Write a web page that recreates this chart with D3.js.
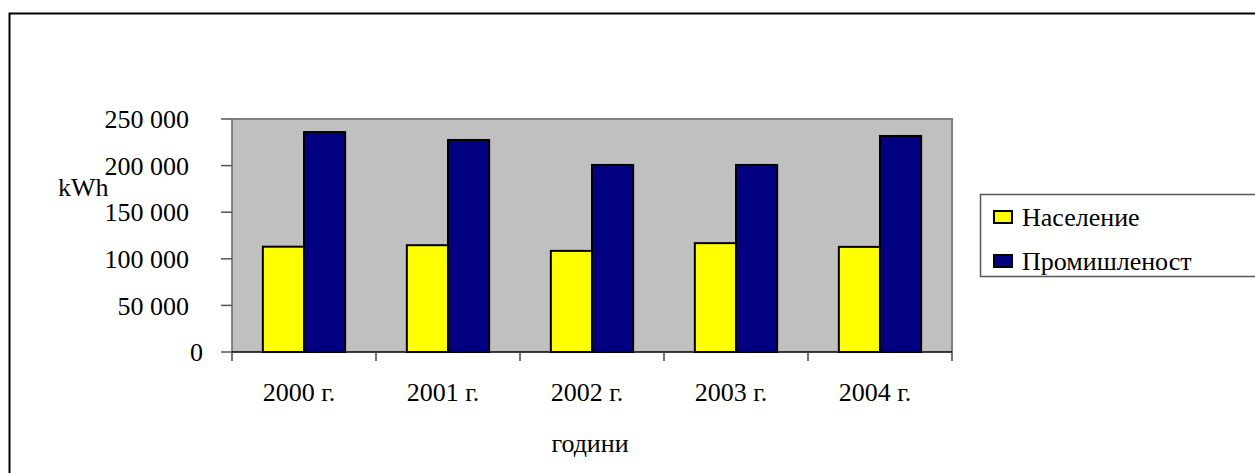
<!DOCTYPE html>
<html>
<head>
<meta charset="utf-8">
<script src="https://cdn.jsdelivr.net/npm/d3@7"></script>
<style>
  html, body { margin: 0; padding: 0; background: #fff; }
  svg { display: block; }
  text { font-family: "Liberation Serif", "DejaVu Serif", serif; fill: #000; }
</style>
</head>
<body>
<svg id="chart" width="1255" height="473"></svg>
<script>
// Electricity consumption by year, kWh
const years = ["2000 г.", "2001 г.", "2002 г.", "2003 г.", "2004 г."];
const seriesNames = ["Население", "Промишленост"];
const population = [113000, 114600, 108500, 116800, 112800];
const industry = [236000, 227500, 200700, 200700, 231800];
const yTicks = [0, 50000, 100000, 150000, 200000, 250000];
const seriesColors = ["#FFFF00", "#000080"];
const yTitle = "kWh";
const xTitle = "години";

const values = [population, industry];

const svg = d3.select("#chart");
const fontSize = 26;

// chart area frame
svg.append("rect")
  .attr("x", 9.5).attr("y", 13.5)
  .attr("width", 1260).attr("height", 470)
  .attr("fill", "#fff").attr("stroke", "#000").attr("stroke-width", 2);

const plot = { left: 232, right: 952, top: 119, bottom: 352 };

const x0 = d3.scaleBand()
  .domain(years)
  .range([plot.left, plot.right])
  .paddingInner(3 / 7)
  .paddingOuter(3 / 14);

const x1 = d3.scaleBand()
  .domain(seriesNames)
  .range([0, x0.bandwidth()]);

const y = d3.scaleLinear()
  .domain([0, 250000])
  .range([plot.bottom, plot.top]);

const fmt = d3.formatLocale({ decimal: ",", thousands: " ", grouping: [3], currency: ["", ""] }).format(",d");

// plot background
svg.append("rect")
  .attr("x", plot.left).attr("y", plot.top)
  .attr("width", plot.right - plot.left).attr("height", plot.bottom - plot.top)
  .attr("fill", "#C0C0C0");

// top and right frame of the plot area
svg.append("path")
  .attr("d", `M${plot.left},${plot.top}H${plot.right}V${plot.bottom}`)
  .attr("fill", "none").attr("stroke", "#808080").attr("stroke-width", 2);

// bars
const groups = svg.append("g").selectAll("g")
  .data(years)
  .join("g")
  .attr("transform", d => `translate(${x0(d)},0)`);

groups.selectAll("rect")
  .data((d, i) => seriesNames.map((s, j) => ({ s, j, v: values[j][i] })))
  .join("rect")
  .attr("x", d => x1(d.s))
  .attr("y", d => y(d.v))
  .attr("width", x1.bandwidth())
  .attr("height", d => y(0) - y(d.v))
  .attr("fill", d => seriesColors[d.j])
  .attr("stroke", "#000")
  .attr("stroke-width", 2);

// y axis
const yAxis = svg.append("g");
yAxis.append("line")
  .attr("x1", plot.left).attr("x2", plot.left)
  .attr("y1", plot.top).attr("y2", plot.bottom)
  .attr("stroke", "#666").attr("stroke-width", 1.5);
yAxis.selectAll("line.tick")
  .data(yTicks)
  .join("line")
  .attr("class", "tick")
  .attr("x1", plot.left - 11).attr("x2", plot.left)
  .attr("y1", d => y(d)).attr("y2", d => y(d))
  .attr("stroke", "#555").attr("stroke-width", 1.5);
yAxis.selectAll("text")
  .data(yTicks)
  .join("text")
  .attr("x", d => d === 0 ? 203 : 189)
  .attr("y", d => y(d))
  .attr("dy", "0.35em")
  .attr("text-anchor", "end")
  .attr("font-size", fontSize)
  .text(d => fmt(d));

// x axis
const step = x0.step();
const boundaries = years.map(c => x0(c) - (step - x0.bandwidth()) / 2);
boundaries.push(plot.right);

const xAxis = svg.append("g");
xAxis.append("line")
  .attr("x1", plot.left).attr("x2", plot.right)
  .attr("y1", plot.bottom).attr("y2", plot.bottom)
  .attr("stroke", "#000").attr("stroke-width", 1.5);
xAxis.selectAll("line.tick")
  .data(boundaries)
  .join("line")
  .attr("class", "tick")
  .attr("x1", d => d).attr("x2", d => d)
  .attr("y1", plot.bottom).attr("y2", plot.bottom + 9)
  .attr("stroke", "#444").attr("stroke-width", 1.5);
xAxis.selectAll("text")
  .data(years)
  .join("text")
  .attr("x", d => x0(d) + x0.bandwidth() / 2 - 5)
  .attr("y", 401)
  .attr("text-anchor", "middle")
  .attr("font-size", fontSize)
  .text(d => d);

// axis titles
svg.append("text")
  .attr("x", (plot.left + plot.right) / 2 - 2)
  .attr("y", 452)
  .attr("text-anchor", "middle")
  .attr("font-size", fontSize)
  .text(xTitle);

svg.append("text")
  .attr("x", 58)
  .attr("y", 196)
  .attr("font-size", fontSize)
  .text(yTitle);

// legend
const legend = svg.append("g");
legend.append("rect")
  .attr("x", 980.5).attr("y", 194.5)
  .attr("width", 300).attr("height", 82)
  .attr("fill", "#fff").attr("stroke", "#555").attr("stroke-width", 1.5);

const rowY = d3.scalePoint().domain(seriesNames).range([217, 261]);
const items = legend.selectAll("g.item")
  .data(seriesNames)
  .join("g")
  .attr("class", "item");
items.append("rect")
  .attr("x", 994).attr("y", d => rowY(d) - 6)
  .attr("width", 18).attr("height", 12)
  .attr("fill", (d, i) => seriesColors[i])
  .attr("stroke", "#000").attr("stroke-width", 2);
items.append("text")
  .attr("x", 1022)
  .attr("y", d => rowY(d))
  .attr("dy", "0.35em")
  .attr("font-size", fontSize)
  .text(d => d);
</script>
</body>
</html>
